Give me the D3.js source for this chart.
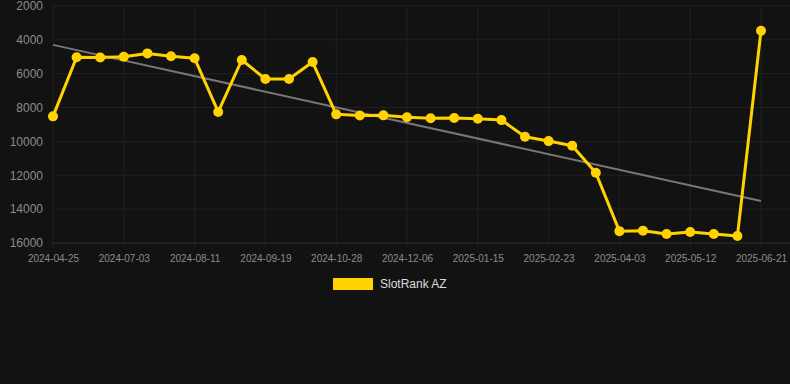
<!DOCTYPE html>
<html>
<head>
<meta charset="utf-8">
<script src="https://cdn.jsdelivr.net/npm/d3@7"></script>
<style>
  html, body { margin: 0; padding: 0; background: #121212; }
  svg { display: block; font-family: "Liberation Sans", Arial, sans-serif; }
</style>
</head>
<body>
<div id="chart"></div>
<script>
// categories (dates) and rank values
var dates = ["2024-04-25", "2024-05-18", "2024-06-10", "2024-07-03", "2024-07-16", "2024-07-29",
    "2024-08-11", "2024-08-24", "2024-09-06", "2024-09-19", "2024-10-02", "2024-10-15",
    "2024-10-28", "2024-11-10", "2024-11-23", "2024-12-06", "2024-12-19", "2025-01-01",
    "2025-01-15", "2025-01-28", "2025-02-10", "2025-02-23", "2025-03-08", "2025-03-21",
    "2025-04-03", "2025-04-16", "2025-04-29", "2025-05-12", "2025-05-25", "2025-06-08",
    "2025-06-21"];
var ranks = [8520, 5030, 5040, 5000, 4800, 4970, 5090, 8260, 5190, 6310, 6310, 5310,
    8400, 8470, 8460, 8570, 8630, 8620, 8660, 8740, 9720, 9980, 10250, 11850,
    15300, 15270, 15470, 15350, 15470, 15590, 3460];
var tickLabels = ["2024-04-25", "2024-07-03", "2024-08-11", "2024-09-19", "2024-10-28",
    "2024-12-06", "2025-01-15", "2025-02-23", "2025-04-03", "2025-05-12", "2025-06-21"];
var yTicks = [2000, 4000, 6000, 8000, 10000, 12000, 14000, 16000];
var seriesName = "SlotRank AZ";

var width = 790, height = 384;
var margin = {top: 6, right: 0, bottom: 141, left: 53};
var plotRight = 761;

var svg = d3.select("#chart").append("svg")
    .attr("width", width)
    .attr("height", height);

var x = d3.scalePoint().domain(dates).range([margin.left, plotRight]),
    y = d3.scaleLinear().domain([2000, 16000]).range([margin.top, height - margin.bottom]);

// grid
var grid = svg.append("g");
grid.selectAll(".hg")
    .data(yTicks)
    .enter().append("line")
    .attr("x1", margin.left).attr("x2", width)
    .attr("y1", function (d) { return y(d); })
    .attr("y2", function (d) { return y(d); })
    .attr("stroke", function (d) { return d === 16000 ? "#2e2e2e" : "#212121"; })
    .attr("stroke-width", 1);

grid.selectAll(".vg")
    .data(tickLabels)
    .enter().append("line")
    .attr("x1", function (d) { return x(d); })
    .attr("x2", function (d) { return x(d); })
    .attr("y1", margin.top)
    .attr("y2", y(16000) + 5)
    .attr("stroke", "#212121")
    .attr("stroke-width", 1);

// y axis labels
var yAxis = d3.axisLeft(y).tickValues(yTicks).tickSize(0).tickPadding(10)
    .tickFormat(d3.format("d"));
var gy = svg.append("g")
    .attr("transform", "translate(" + margin.left + ",0)")
    .call(yAxis);
gy.select(".domain").remove();
gy.selectAll("text").attr("fill", "#8c8c8c").style("font-size", "12px")
    .style("font-family", "Liberation Sans, Arial, sans-serif");

// x axis labels
var xAxis = d3.axisBottom(x).tickValues(tickLabels).tickSize(0).tickPadding(12);
var gx = svg.append("g")
    .attr("transform", "translate(0," + y(16000) + ")")
    .call(xAxis);
gx.select(".domain").remove();
gx.selectAll("text").attr("fill", "#8c8c8c").style("font-size", "10px")
    .style("font-family", "Liberation Sans, Arial, sans-serif");

// trend line (least squares over index)
var n = ranks.length;
var idx = d3.range(n);
var mx = d3.mean(idx), my = d3.mean(ranks);
var slope = d3.sum(idx, function (i) { return (i - mx) * (ranks[i] - my); }) /
    d3.sum(idx, function (i) { return (i - mx) * (i - mx); });
var intercept = my - slope * mx;
svg.append("line")
    .attr("x1", x(dates[0]))
    .attr("y1", y(intercept))
    .attr("x2", x(dates[n - 1]))
    .attr("y2", y(intercept + slope * (n - 1)))
    .attr("stroke", "#777")
    .attr("stroke-width", 2);

// series line + points
var line = d3.line()
    .x(function (d, i) { return x(dates[i]); })
    .y(function (d) { return y(d); });

svg.append("path")
    .datum(ranks)
    .attr("fill", "none")
    .attr("stroke", "#ffd200")
    .attr("stroke-width", 3)
    .attr("stroke-linejoin", "round")
    .attr("d", line);

svg.selectAll(".pt")
    .data(ranks)
    .enter().append("circle")
    .attr("cx", function (d, i) { return x(dates[i]); })
    .attr("cy", function (d) { return y(d); })
    .attr("r", 5)
    .attr("fill", "#ffd200");

// legend
var legend = svg.append("g").attr("transform", "translate(333,278)");
legend.append("rect")
    .attr("width", 40).attr("height", 12)
    .attr("fill", "#ffd200");
legend.append("text")
    .attr("x", 47).attr("y", 6)
    .attr("dy", "0.35em")
    .attr("fill", "#dddddd")
    .style("font-size", "12px")
    .text(seriesName);
</script>
</body>
</html>
